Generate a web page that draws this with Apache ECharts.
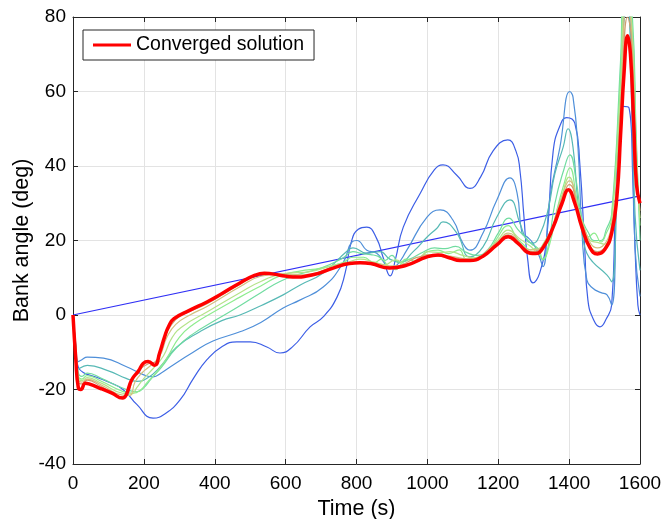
<!DOCTYPE html>
<html>
<head>
<meta charset="utf-8">
<script src="https://cdn.jsdelivr.net/npm/echarts@6/dist/echarts.min.js"></script>
<style>html,body{margin:0;padding:0;background:#fff}#c{width:661px;height:519px}</style>
</head>
<body>
<div id="c"></div>
<script>
// ---- Data (time in s, bank angle in deg) ----
const xTicks = [0, 200, 400, 600, 800, 1000, 1200, 1400, 1600];
const yTicks = [-40, -20, 0, 20, 40, 60, 80];

const initialGuess = [[0,0],[1600,32]];

const iter1 = [[0,0],[8,-10],[15,-14],[30,-15.5],[60,-16.5],[100,-18],[141,-20],[180,-24],[226,-27.7],[260,-26.5],[302,-22.8],[340,-17],[378,-12],[420,-8.5],[462,-7.2],[500,-7.2],[547,-8.6],[584,-10.2],[620,-8.5],[669,-3.2],[706,-0.5],[745,4.8],[768,11.3],[785,19.5],[805,23],[829,23.6],[857,20.5],[875,15.5],[895,10.5],[910,15],[932,23.6],[980,32.7],[1020,39],[1044,40.3],[1083,37.5],[1120,34],[1150,37],[1185,44],[1227,47],[1250,44],[1261,39],[1272,27],[1283,15],[1298,8.6],[1317,11.3],[1337,21],[1355,44],[1375,51],[1393,53],[1416,51.5],[1430,40.8],[1444,18],[1453,4],[1470,-1.5],[1487,-3.2],[1505,-1],[1520,2.7],[1530,27],[1543,53.7],[1552,56],[1569,55.6],[1580,35.7],[1586,18],[1594,2.7],[1600,0]];

const iter2 = [[0,0],[8,-8],[15,-12.5],[25,-12],[40,-11.3],[86,-11.6],[151,-13.9],[198,-16],[226,-16.6],[250,-15.5],[273,-14],[339,-10],[395,-7],[471,-4.5],[530,-2],[593,1.9],[640,4],[706,7.5],[762,14],[787,19.6],[801,20],[829,17.4],[857,16.6],[875,14.5],[894,12.5],[910,13],[942,17.4],[999,26.3],[1036,28.2],[1072,25.5],[1100,19.3],[1120,17.4],[1157,22],[1196,30.9],[1233,36.8],[1253,32.8],[1267,22],[1281,21],[1298,19.3],[1315,16],[1326,13],[1346,31.7],[1374,45],[1402,60],[1411,58.5],[1425,45],[1436,22.8],[1450,9.4],[1467,7.2],[1490,6],[1507,5.4],[1520,2.7],[1535,35.7],[1552,76],[1566,84],[1577,53.7],[1586,18],[1600,5]];

const iter3 = [[0,0],[8,-9],[15,-14.5],[40,-13.5],[100,-15],[150,-17],[180,-17.8],[209,-17],[245,-14],[293,-8.6],[358,-4.5],[420,-1.5],[471,0],[530,2.5],[593,5.4],[640,8],[706,11.3],[776,17.4],[790,18],[829,16.6],[866,17],[894,15],[922,14.2],[960,17],[1000,21],[1027,23.3],[1044,25],[1083,22],[1120,15.6],[1157,18.3],[1196,26.3],[1233,30.9],[1261,24.7],[1281,20],[1298,19.3],[1315,21],[1340,28],[1360,38],[1383,45],[1397,50],[1411,45],[1425,30],[1440,20],[1450,16.6],[1467,14.2],[1507,10.7],[1520,8.9],[1535,35.7],[1552,78],[1562,85],[1577,62],[1586,27],[1600,12]];

const iter4 = [[0,0],[8,-8.5],[15,-15.5],[25,-16.5],[40,-15.6],[80,-17],[140,-19.6],[180,-20.6],[200,-19.5],[220,-17.2],[250,-14],[290,-9],[340,-5],[400,-1.5],[471,2.5],[530,6],[584,9],[640,11],[700,12.6],[760,15.2],[790,17],[815,16.5],[840,16.2],[860,15.8],[880,14.6],[900,16],[920,14],[950,15],[990,17],[1020,18],[1050,17.8],[1080,18.4],[1110,16.8],[1140,16],[1170,17.5],[1200,22],[1230,26],[1255,23],[1275,21],[1295,19],[1310,18],[1326,14.8],[1340,18],[1360,30],[1385,39],[1402,43],[1420,36],[1436,26],[1455,22],[1470,20],[1490,20],[1505,23],[1520,27],[1545,68],[1556,90],[1575,85],[1590,46],[1600,20]];

const iter5 = [[0,0],[8,-9],[15,-16.5],[25,-17.2],[40,-16.3],[80,-17.8],[140,-20.5],[170,-21],[190,-20.2],[210,-18],[235,-15.5],[265,-11.5],[300,-6],[340,-2.5],[400,1],[471,4.8],[530,7.8],[584,10.5],[640,11.8],[700,12.6],[760,14],[790,15.5],[820,15.5],[850,14],[870,15],[890,13],[910,12.2],[940,15],[970,14.3],[1000,17],[1030,17.4],[1060,16.5],[1090,17.5],[1110,15],[1140,15.5],[1170,16.6],[1196,20.5],[1228,24],[1250,21],[1270,19],[1290,17.5],[1310,18],[1326,15],[1345,19],[1365,28],[1385,35],[1402,39.5],[1420,32],[1436,24],[1455,21],[1470,22],[1490,19.6],[1505,22],[1520,26],[1545,64],[1558,88],[1575,82],[1590,44],[1600,24]];

const iter6 = [[0,0],[8,-9.5],[15,-17],[25,-17.6],[40,-16.8],[80,-18.3],[140,-21],[165,-21.2],[180,-19.5],[200,-17],[225,-14.5],[255,-11],[280,-6],[310,-3],[378,0.8],[471,6],[530,9],[600,11.2],[660,11.5],[734,13.3],[780,14.3],[810,15],[850,14.2],[880,13.5],[910,14.8],[940,13.6],[980,15.5],[1000,17],[1040,16.8],[1064,17],[1100,16],[1140,15.2],[1196,19.8],[1228,22.8],[1260,20.5],[1290,18.5],[1310,17],[1326,19],[1360,25],[1380,32],[1400,37],[1420,31],[1436,25.5],[1460,20],[1480,19.5],[1500,19],[1520,25],[1545,60],[1560,86],[1575,80],[1590,42],[1600,26]];

const iter7 = [[0,0],[8,-10],[15,-17.5],[25,-18],[40,-17.2],[80,-18.8],[140,-21.5],[160,-21.6],[175,-18],[195,-15.5],[220,-13.5],[245,-11],[265,-6],[290,-2.5],[330,0],[378,2.3],[471,7.6],[530,10.4],[584,11],[650,10.8],[734,12.8],[810,14.3],[860,13.8],[894,13.2],[950,13.8],[1000,16.2],[1064,15.8],[1120,15],[1196,19.5],[1228,22],[1290,17.5],[1326,18.6],[1380,32],[1400,36],[1436,25],[1480,18],[1520,24],[1545,56],[1563,84],[1575,78],[1590,40],[1600,28]];

const iter8 = [[0,0],[8,-11],[15,-18],[25,-18.5],[40,-17.5],[80,-19.2],[140,-22],[155,-21],[170,-17],[190,-14.5],[215,-13],[235,-12.5],[255,-7],[275,-3],[300,-0.5],[378,3],[471,8.2],[530,10.8],[584,10.9],[640,10.4],[734,12.7],[810,14.1],[894,12.8],[1000,15.9],[1064,15.5],[1120,14.8],[1196,19],[1228,21.5],[1290,17],[1326,18.2],[1380,31],[1400,35],[1436,24],[1480,17],[1520,23],[1545,52],[1565,80],[1575,75],[1590,38],[1600,30]];

const converged = [[0,0],[8,-12],[15,-19.5],[22,-20],[35,-18.3],[45,-18.5],[80,-19.8],[110,-21],[140,-22.3],[150,-21.5],[165,-17.5],[185,-15],[198,-13],[212,-12.5],[230,-13.5],[245,-10],[258,-6],[270,-3],[285,-1],[330,1.3],[378,3.5],[423,5.9],[471,8.6],[514,10.7],[540,11.2],[584,10.7],[620,10.2],[677,10.8],[734,12.6],[780,13.8],[810,14],[840,13.8],[894,12.6],[942,13.4],[999,15.6],[1030,16.1],[1064,15.3],[1092,14.6],[1120,14.6],[1157,15.8],[1196,18.8],[1228,21],[1255,19.3],[1290,16.6],[1305,16.5],[1326,18],[1355,23.6],[1380,30],[1398,33.6],[1416,30],[1436,23.6],[1459,18],[1480,16.4],[1500,17.5],[1520,22],[1535,32],[1545,48],[1555,65],[1565,75],[1573,70],[1582,52],[1590,35],[1600,30]];

const iterations = [iter1, iter2, iter3, iter4, iter5, iter6, iter7, iter8];
const iterColors = ['#3c5ee6', '#4f8fd9', '#57b9b5', '#70dca0', '#8eec8e', '#b5e38a', '#d1c080', '#cf9e72'];

// ---- Chart ----
const chart = echarts.init(document.getElementById('c'), null, {renderer: 'canvas'});
const FONT = 'Liberation Sans, Arial, Helvetica, sans-serif';
const AX = '#262626';

const series = [];
series.push({
  name: 'initial', type: 'line', data: initialGuess, symbol: 'none',
  lineStyle: {color: '#2f2ff5', width: 1.2}, silent: true, z: 2
});
iterations.forEach((d, i) => {
  series.push({
    name: 'iter' + (i + 1), type: 'line', data: d, symbol: 'none',
    smooth: 0.5,
    lineStyle: {color: iterColors[i], width: 1.2}, silent: true, z: 3
  });
});
series.push({
  name: 'Converged solution', type: 'line', data: converged, symbol: 'none',
  smooth: 0.5,
  itemStyle: {color: '#ff0000'},
  lineStyle: {color: '#ff0000', width: 3.5}, z: 5
});

const baseX = {min: 0, max: 1600, interval: 200};
const baseY = {min: -40, max: 80, interval: 20};

chart.setOption({
  animation: false,
  backgroundColor: '#ffffff',
  grid: {left: 73, right: 21, top: 17, bottom: 55, containLabel: false, outerBoundsMode: 'none'},
  legend: {
    data: ['Converged solution'], left: 83, top: 30,
    padding: [5, 10, 5, 10], itemWidth: 38, itemHeight: 3, icon: 'rect',
    itemGap: 5,
    backgroundColor: '#ffffff', borderColor: AX, borderWidth: 1,
    textStyle: {fontFamily: FONT, fontSize: 19.5, lineHeight: 20, color: '#000'}
  },
  xAxis: [
    Object.assign({
      type: 'value', position: 'bottom',
      name: 'Time (s)', nameLocation: 'middle', nameGap: 33,
      nameTextStyle: {fontFamily: FONT, fontSize: 21.5, color: '#000'},
      axisLine: {show: true, onZero: false, lineStyle: {color: AX, width: 1}},
      axisTick: {show: true, inside: true, length: 5, lineStyle: {color: AX}},
      axisLabel: {fontFamily: FONT, fontSize: 19, color: '#000', margin: 10,
        formatter: v => xTicks.includes(v) ? String(v) : ''},
      splitLine: {show: true, lineStyle: {color: '#e3e3e3', width: 1}}
    }, baseX),
    Object.assign({
      type: 'value', position: 'top',
      axisLine: {show: true, onZero: false, lineStyle: {color: AX, width: 1}},
      axisTick: {show: true, inside: true, length: 5, lineStyle: {color: AX}},
      axisLabel: {show: false}, splitLine: {show: false}
    }, baseX)
  ],
  yAxis: [
    Object.assign({
      type: 'value', position: 'left',
      name: 'Bank angle (deg)', nameLocation: 'middle', nameGap: 40,
      nameMoveOverlap: false,
      nameTextStyle: {fontFamily: FONT, fontSize: 21.5, color: '#000'},
      axisLine: {show: true, onZero: false, lineStyle: {color: AX, width: 1}},
      axisTick: {show: true, inside: true, length: 5, lineStyle: {color: AX}},
      axisLabel: {fontFamily: FONT, fontSize: 19, color: '#000', margin: 7,
        formatter: v => yTicks.includes(v) ? String(v) : ''},
      splitLine: {show: true, lineStyle: {color: '#e3e3e3', width: 1}}
    }, baseY),
    Object.assign({
      type: 'value', position: 'right',
      axisLine: {show: true, onZero: false, lineStyle: {color: AX, width: 1}},
      axisTick: {show: true, inside: true, length: 5, lineStyle: {color: AX}},
      axisLabel: {show: false}, splitLine: {show: false}
    }, baseY)
  ],
  series: series
});
</script>
</body>
</html>
